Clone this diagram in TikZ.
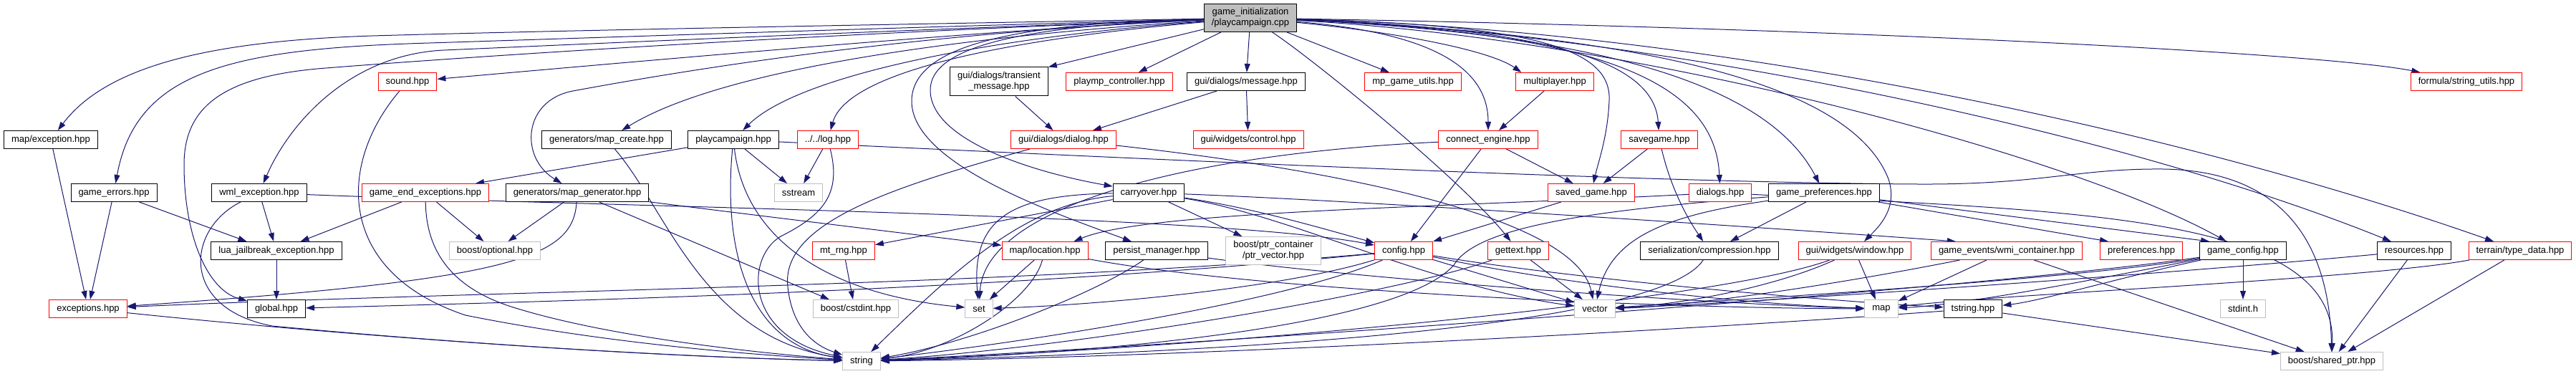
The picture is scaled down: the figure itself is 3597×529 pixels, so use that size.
\documentclass[tikz,border=0pt]{standalone}
\usepackage{fontspec}
\setmainfont{Liberation Sans}
\usetikzlibrary{arrows.meta, calc, backgrounds}
\definecolor{edgeblue}{RGB}{25,25,112}
\definecolor{doxred}{RGB}{255,0,0}
\definecolor{doxgrey}{RGB}{191,191,191}

\begin{document}
\begin{tikzpicture}[x=1pt, y=1pt,
        every node/.style={font=\fontsize{13}{15}\selectfont},
        hdr/.style={rectangle, draw=black, fill=white, line width=1pt, minimum height=25pt, inner xsep=10.5pt, inner ysep=2pt},
        redhdr/.style={hdr, draw=doxred},
        sysinc/.style={hdr, draw=doxgrey},
        srcfile/.style={hdr, fill=doxgrey, align=center, minimum height=39pt},
        dep/.style={-{Triangle[length=12pt, width=8pt]}, draw=edgeblue, line width=1pt}
    ]
    \useasboundingbox (0,0) rectangle (3597,-529);

    % Nodes
    \node[srcfile] (root) at (1746,-25) {game\_initialization\\/playcampaign.cpp};
    \node[hdr] (mapexc) at (71,-195) {map/exception.hpp};
    \node[hdr] (gameerr) at (159,-269) {game\_errors.hpp};
    \node[hdr] (wmlexc) at (362,-269) {wml\_exception.hpp};
    \node[hdr] (luajail) at (386,-350) {lua\_jailbreak\_exception.hpp};
    \node[redhdr] (exceptions) at (123,-431) {exceptions.hpp};
    \node[hdr] (global) at (386,-431) {global.hpp};
    \node[redhdr] (sound) at (569,-114) {sound.hpp};
    \node[redhdr] (gameend) at (594,-269) {game\_end\_exceptions.hpp};
    \node[hdr] (mapcreate) at (847,-195) {generators/map\_create.hpp};
    \node[hdr] (pchpp) at (1024,-195) {playcampaign.hpp};
    \node[redhdr] (log) at (1156,-195) {../../log.hpp};
    \node[hdr] (mapgen) at (806,-269) {generators/map\_generator.hpp};
    \node[sysinc] (sstream) at (1115,-269) {sstream};
    \node[sysinc] (optional) at (691,-350) {boost/optional.hpp};
    \node[redhdr] (mtrng) at (1178,-350) {mt\_rng.hpp};
    \node[sysinc] (cstdint) at (1195,-431) {boost/cstdint.hpp};
    \node[sysinc] (string) at (1203,-504) {string};
    \node[hdr, align=center, minimum height=40pt] (transient) at (1395,-114) {gui/dialogs/transient\\\_message.hpp};
    \node[redhdr] (playmp) at (1563,-114) {playmp\_controller.hpp};
    \node[hdr] (message) at (1740,-114) {gui/dialogs/message.hpp};
    \node[redhdr] (dialog) at (1485,-195) {gui/dialogs/dialog.hpp};
    \node[redhdr] (control) at (1743,-195) {gui/widgets/control.hpp};
    \node[hdr] (carryover) at (1604,-269) {carryover.hpp};
    \node[redhdr] (location) at (1459,-350) {map/location.hpp};
    \node[hdr] (persist) at (1615,-350) {persist\_manager.hpp};
    \node[sysinc, align=center, minimum height=39pt] (ptrvec) at (1778,-350) {boost/ptr\_container\\/ptr\_vector.hpp};
    \node[sysinc] (set) at (1367,-431) {set};
    \node[redhdr] (mputils) at (1973,-114) {mp\_game\_utils.hpp};
    \node[redhdr] (multiplayer) at (2171,-114) {multiplayer.hpp};
    \node[redhdr] (connect) at (2078,-195) {connect\_engine.hpp};
    \node[redhdr] (savegame) at (2317,-195) {savegame.hpp};
    \node[redhdr] (savedgame) at (2222,-269) {saved\_game.hpp};
    \node[redhdr] (dialogs) at (2402,-269) {dialogs.hpp};
    \node[redhdr] (config) at (1960,-350) {config.hpp};
    \node[redhdr] (gettext) at (2120,-350) {gettext.hpp};
    \node[hdr] (compression) at (2387,-350) {serialization/compression.hpp};
    \node[sysinc] (vector) at (2227,-431) {vector};
    \node[hdr] (gameprefs) at (2547,-269) {game\_preferences.hpp};
    \node[redhdr] (window) at (2590,-350) {gui/widgets/window.hpp};
    \node[redhdr] (wmi) at (2802,-350) {game\_events/wmi\_container.hpp};
    \node[redhdr] (preferences) at (2990,-350) {preferences.hpp};
    \node[sysinc] (map) at (2627,-431) {map};
    \node[hdr] (tstring) at (2755,-431) {tstring.hpp};
    \node[redhdr] (strutils) at (3444,-114) {formula/string\_utils.hpp};
    \node[hdr] (gameconfig) at (3132,-350) {game\_config.hpp};
    \node[hdr] (resources) at (3371,-350) {resources.hpp};
    \node[redhdr] (typedata) at (3519,-350) {terrain/type\_data.hpp};
    \node[sysinc] (stdint) at (3132,-431) {stdint.h};
    \node[sysinc] (sharedptr) at (3256,-504) {boost/shared\_ptr.hpp};

    % Connections
    \begin{scope}[on background layer]
    % from the source file
    \draw[dep] (root) .. controls (1200,-35) and (800,-42) .. (520,-50) .. controls (300,-57) and (150,-90) .. (mapexc);
    \draw[dep] (root) .. controls (1200,-40) and (850,-52) .. (600,-60) .. controls (320,-68) and (190,-100) .. (gameerr);
    \draw[dep] (root) .. controls (1200,-44) and (850,-60) .. (620,-70) .. controls (490,-76) and (405,-170) .. (wmlexc);
    \draw[dep] (root) .. controls (1200,-45) and (750,-72) .. (455,-95) .. controls (310,-106) and (257,-150) .. (257,-230) .. controls (257,-330) and (290,-405) .. (global);
    \draw[dep] (root) .. controls (1400,-40) and (900,-85) .. (sound);
    \draw[dep] (root) .. controls (1350,-50) and (1010,-95) .. (mapcreate);
    \draw[dep] (root) .. controls (1300,-45) and (1000,-90) .. (800,-127) .. controls (730,-140) and (725,-220) .. (mapgen);
    \draw[dep] (root) .. controls (1350,-55) and (1110,-110) .. (pchpp);
    \draw[dep] (root) .. controls (1350,-60) and (1180,-110) .. (log);
    \draw[dep] (root) -- (transient.north east);
    \draw[dep] (root) -- (playmp);
    \draw[dep] (root) -- (message);
    \draw[dep] (root) .. controls (1450,-35) and (1300,-60) .. (1299,-125) .. controls (1298,-195) and (1440,-240) .. (carryover);
    \draw[dep] (root) .. controls (1450,-32) and (1275,-55) .. (1273,-140) .. controls (1271,-230) and (1480,-300) .. (persist);
    \draw[dep] (root) -- (mputils);
    \draw[dep] (root) .. controls (1950,-45) and (2080,-70) .. ($(multiplayer.north west)+(8,0)$);
    \draw[dep] (root) .. controls (1990,-45) and (2078,-90) .. (connect);
    \draw[dep] (root) .. controls (1830,-80) and (2040,-250) .. (gettext);
    \draw[dep] (root) .. controls (2150,-35) and (2250,-70) .. (2247,-140) .. controls (2245,-190) and (2232,-225) .. (savedgame);
    \draw[dep] (root) .. controls (2180,-40) and (2310,-90) .. (savegame);
    \draw[dep] (root) .. controls (2250,-45) and (2395,-120) .. (dialogs);
    \draw[dep] (root) .. controls (2300,-50) and (2480,-140) .. (gameprefs);
    \draw[dep] (root) .. controls (2350,-50) and (2590,-130) .. (2637,-250) .. controls (2650,-290) and (2625,-315) .. (window);
    \draw[dep] (root) .. controls (2300,-55) and (2900,-220) .. (gameconfig);
    \draw[dep] (root) .. controls (2300,-45) and (2950,-180) .. (resources);
    \draw[dep] (root) .. controls (2400,-42) and (3050,-185) .. (typedata);
    \draw[dep] (root) .. controls (2600,-40) and (3250,-75) .. (strutils);

    % left part
    \draw[dep] (mapexc) -- (exceptions);
    \draw[dep] (gameerr) -- (exceptions);
    \draw[dep] (gameerr) -- ($(luajail.north west)+(50,0)$);
    \draw[dep] (wmlexc) -- (luajail);
    \draw[dep] (gameend) -- ($(luajail.north east)+(-58,0)$);
    \draw[dep] (luajail) -- (global);
    \draw[dep] (wmlexc) .. controls (260,-320) and (250,-430) .. (380,-455) .. controls (700,-485) and (1000,-500) .. (string);
    \draw[dep] (wmlexc) .. controls (900,-290) and (1700,-300) .. (config);
    \draw[dep] (sound) .. controls (470,-230) and (470,-380) .. (650,-440) .. controls (850,-480) and (1050,-495) .. (string);
    \draw[dep] (gameend) -- (optional);
    \draw[dep] (gameend) .. controls (595,-340) and (620,-400) .. (720,-430) .. controls (850,-470) and (1050,-492) .. (string);
    \draw[dep] (exceptions) .. controls (500,-470) and (900,-498) .. (string);
    \draw[dep] (config) .. controls (1400,-400) and (700,-405) .. (exceptions);
    \draw[dep] (config) .. controls (1400,-405) and (800,-420) .. (global);
    \draw[dep] (mapgen) .. controls (800,-360) and (720,-390) .. (exceptions);
    \draw[dep] (mapgen) -- (optional);
    \draw[dep] (mapgen) -- ($(cstdint.north west)+(23,0)$);
    \draw[dep] (mapgen) .. controls (1050,-300) and (1300,-330) .. (location);
    \draw[dep] (pchpp) -- ($(gameend.north east)+(-19,0)$);
    \draw[dep] (pchpp) -- (sstream);
    \draw[dep] (pchpp) .. controls (1010,-340) and (1040,-480) .. (string);
    \draw[dep] (pchpp) .. controls (1040,-330) and (1150,-410) .. (set);
    \draw[dep] (pchpp) .. controls (1600,-222) and (2300,-255) .. (2677,-257) .. controls (2850,-258) and (2900,-235) .. (3020,-236) .. controls (3180,-238) and (3252,-330) .. (sharedptr);
    \draw[dep] (mapcreate) .. controls (930,-290) and (980,-470) .. (string);
    \draw[dep] (log) -- (sstream);
    \draw[dep] (log) .. controls (1175,-270) and (1150,-300) .. (1090,-330) .. controls (1040,-360) and (1040,-470) .. (string);
    \draw[dep] (mtrng) -- ($(cstdint.north)+(-4,0)$);

    % middle part
    \draw[dep] (transient) -- (dialog);
    \draw[dep] (message) -- (dialog);
    \draw[dep] (message) -- (control);
    \draw[dep] (dialog) .. controls (1250,-260) and (1090,-310) .. (1100,-400) .. controls (1105,-450) and (1130,-480) .. (string);
    \draw[dep] (dialog) .. controls (1850,-235) and (2200,-300) .. (vector);
    \draw[dep] (carryover) .. controls (1420,-272) and (1355,-300) .. (set);
    \draw[dep] (carryover) .. controls (1430,-285) and (1330,-380) .. (string);
    \draw[dep] (carryover) -- (mtrng);
    \draw[dep] (carryover) -- ($(ptrvec.north west)+(23,0)$);
    \draw[dep] (carryover) .. controls (1750,-290) and (1850,-320) .. (config);
    \draw[dep] (carryover) .. controls (1900,-280) and (2500,-320) .. ($(wmi.north west)+(35,0)$);
    \draw[dep] (carryover) .. controls (1800,-300) and (2000,-400) .. (vector);
    \draw[dep] (location) -- (set);
    \draw[dep] (location) .. controls (1440,-420) and (1330,-490) .. (string);
    \draw[dep] (location) .. controls (1750,-405) and (2300,-430) .. (map);
    \draw[dep] (persist) .. controls (1530,-410) and (1350,-480) .. (string);
    \draw[dep] (persist) .. controls (1900,-390) and (2400,-425) .. (map);
    \draw[dep] (multiplayer) -- (connect);
    \draw[dep] (connect) -- (savedgame);
    \draw[dep] (connect) -- (config);
    \draw[dep] (connect) .. controls (1650,-215) and (1375,-290) .. (set);
    \draw[dep] (savegame) -- (savedgame);
    \draw[dep] (savegame) .. controls (2335,-270) and (2360,-310) .. (compression);
    \draw[dep] (savedgame) -- (config.north east);
    \draw[dep] (dialogs) .. controls (2000,-290) and (1600,-295) .. ($(location.north east)+(-20,0)$);
    \draw[dep] (dialogs) .. controls (2900,-295) and (3262,-300) .. (sharedptr);
    \draw[dep] (config) -- (vector);
    \draw[dep] (config) .. controls (2200,-400) and (2450,-425) .. (map);
    \draw[dep] (config) .. controls (2200,-390) and (2550,-420) .. (tstring);
    \draw[dep] (config) .. controls (1800,-420) and (1450,-475) .. (string);
    \draw[dep] (config) .. controls (1800,-400) and (1550,-425) .. (set);
    \draw[dep] (gettext) .. controls (1950,-410) and (1500,-485) .. (string);
    \draw[dep] (gettext) -- (vector);
    \draw[dep] (compression) .. controls (2320,-450) and (1800,-490) .. (string);

    % right part
    \draw[dep] (gameprefs) -- ($(compression.north)+(29,0)$);
    \draw[dep] (gameprefs) -- ($(preferences.north west)+(12,0)$);
    \draw[dep] (gameprefs) -- ($(gameconfig.north west)+(14,0)$);
    \draw[dep] (gameprefs) .. controls (2330,-300) and (2250,-330) .. (vector);
    \draw[dep] (gameprefs) .. controls (2200,-295) and (2060,-320) .. (2030,-370) .. controls (1950,-460) and (1500,-495) .. (string);
    \draw[dep] (window) -- ($(map.north)+(-8,0)$);
    \draw[dep] (window) .. controls (2400,-420) and (1700,-485) .. (string);
    \draw[dep] (window) .. controls (2480,-400) and (2350,-425) .. (vector);
    \draw[dep] (wmi) -- (map);
    \draw[dep] (wmi) .. controls (2550,-400) and (2350,-428) .. (vector);
    \draw[dep] (wmi) -- (sharedptr);
    \draw[dep] (tstring) -- (sharedptr);
    \draw[dep] (tstring) .. controls (2300,-465) and (1600,-500) .. (string);
    \draw[dep] (gameconfig) -- (stdint);
    \draw[dep] (gameconfig) .. controls (2950,-385) and (2750,-425) .. (map);
    \draw[dep] (gameconfig) .. controls (2950,-390) and (2850,-420) .. (tstring);
    \draw[dep] (gameconfig) .. controls (2900,-390) and (2400,-420) .. (vector);
    \draw[dep] (gameconfig) .. controls (2800,-400) and (1700,-480) .. (string);
    \draw[dep] (resources) .. controls (3000,-385) and (2400,-425) .. (vector);
    \draw[dep] (resources) -- (sharedptr);
    \draw[dep] (typedata) -- (sharedptr);
    \draw[dep] (typedata) .. controls (3300,-390) and (2800,-410) .. (map);
    \end{scope}
\end{tikzpicture}
\end{document}
